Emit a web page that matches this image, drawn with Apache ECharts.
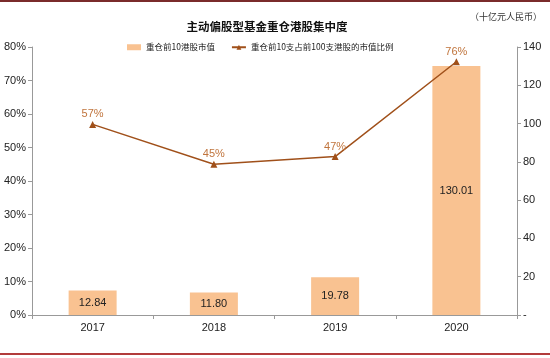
<!DOCTYPE html>
<html><head><meta charset="utf-8">
<script src="https://cdn.jsdelivr.net/npm/echarts@6/dist/echarts.min.js"></script>
<style>html,body{margin:0;padding:0;background:#fff}#c{width:550px;height:358px}</style>
</head><body><div id="c"></div>
<script>
const years = ['2017', '2018', '2019', '2020'];
const top10Value = [12.84, 11.80, 19.78, 130.01];
const top10Share = [56.9, 45.0, 47.3, 75.6];
const shareLabels = ['57%', '45%', '47%', '76%'];
const title = '主动偏股型基金重仓港股集中度';
const unit = '（十亿元人民币）';
const barName = '重仓前10港股市值';
const lineName = '重仓前10支占前100支港股的市值比例';

const cjk = '"Noto Sans CJK SC", sans-serif';
const num = '"Liberation Sans", Arial, sans-serif';
const chart = echarts.init(document.getElementById('c'));
chart.setOption({
  animation: false,
  title: { text: title, left: 262, top: 16, textAlign: 'center',
    textStyle: { fontFamily: cjk, fontSize: 11.5, fontWeight: 'bold', color: '#111' } },
  graphic: [
    { type: 'rect', shape: { x: 0, y: 0, width: 550, height: 2 }, style: { fill: '#7a2b2b' } },
    { type: 'rect', shape: { x: 0, y: 353, width: 550, height: 2 }, style: { fill: '#b23c3c' } },
    { type: 'text', left: 470, top: 12, style: { text: unit, font: '9px "Noto Sans CJK SC"', fill: '#333' } }
  ],
  legend: { top: 38, left: 122, itemGap: 16, itemWidth: 14, itemHeight: 6,
    textStyle: { fontFamily: cjk, fontSize: 8.5, color: '#222' },
    data: [{ name: barName, icon: 'rect' }, { name: lineName }] },
  grid: { left: 32, right: 33, top: 47, bottom: 43 },
  xAxis: { type: 'category', data: years, boundaryGap: true,
    axisLine: { lineStyle: { color: '#999' } },
    axisTick: { show: true, length: 4, lineStyle: { color: '#999' } },
    axisLabel: { fontFamily: num, fontSize: 11, color: '#222', margin: 7 } },
  yAxis: [
    { type: 'value', min: 0, max: 80, interval: 10, position: 'left',
      splitLine: { show: false },
      axisLine: { show: true, lineStyle: { color: '#999' } },
      axisTick: { show: true, length: 4, lineStyle: { color: '#999' } },
      axisLabel: { formatter: '{value}%', fontFamily: num, fontSize: 11, color: '#222', margin: 6 } },
    { type: 'value', min: 0, max: 140, interval: 20, position: 'right',
      splitLine: { show: false },
      axisLine: { show: true, lineStyle: { color: '#999' } },
      axisTick: { show: true, length: 4, lineStyle: { color: '#999' } },
      axisLabel: { formatter: v => v === 0 ? '-' : String(v), fontFamily: num, fontSize: 11, color: '#222', margin: 6 } }
  ],
  series: [
    { name: barName, type: 'bar', yAxisIndex: 1, data: top10Value, barWidth: 48,
      itemStyle: { color: '#f9c291' },
      label: { show: true, position: 'inside', formatter: p => p.value.toFixed(2),
        fontFamily: num, fontSize: 11, color: '#222' } },
    { name: lineName, type: 'line', yAxisIndex: 0, data: top10Share,
      symbol: 'triangle', symbolSize: 7,
      lineStyle: { color: '#a0501a', width: 1.5 }, itemStyle: { color: '#a0501a' },
      label: { show: true, position: 'top', distance: 1, formatter: p => shareLabels[p.dataIndex],
        fontFamily: num, fontSize: 11, color: '#c0743c' } }
  ]
});
</script></body></html>
